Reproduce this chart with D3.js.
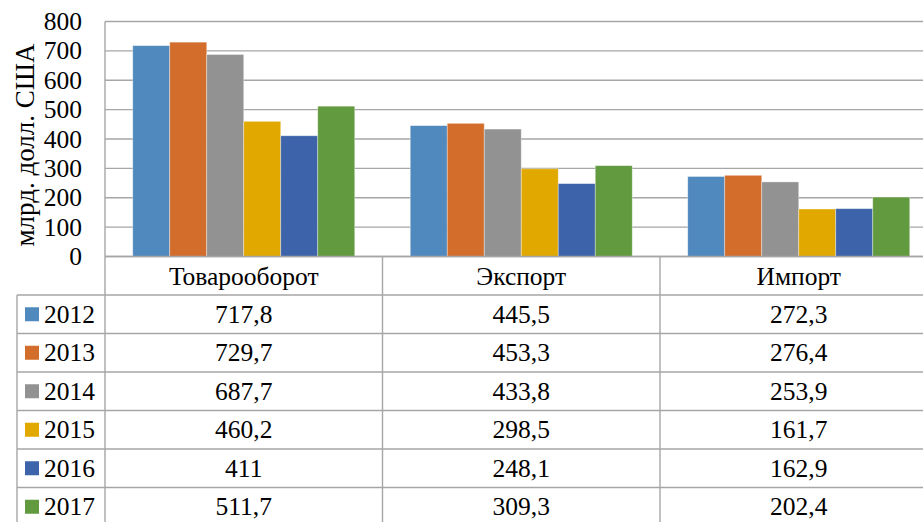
<!DOCTYPE html>
<html>
<head>
<meta charset="utf-8">
<script src="https://cdn.jsdelivr.net/npm/d3@7"></script>
</head>
<body style="margin:0">
<svg id="chart" width="923" height="522" style="display:block;background:#fff"></svg>
<script>
// Внешняя торговля, млрд. долл. США
const categories = ["Товарооборот", "Экспорт", "Импорт"];
const years = ["2012", "2013", "2014", "2015", "2016", "2017"];
const v2012 = [717.8, 445.5, 272.3];
const v2013 = [729.7, 453.3, 276.4];
const v2014 = [687.7, 433.8, 253.9];
const v2015 = [460.2, 298.5, 161.7];
const v2016 = [411, 248.1, 162.9];
const v2017 = [511.7, 309.3, 202.4];
const yTicks = [0, 100, 200, 300, 400, 500, 600, 700, 800];
const colors = ["#4f89bd", "#d26d2b", "#929292", "#e1a900", "#3d63aa", "#629a3f"];
const axisTitle = "млрд. долл. США";

const series = [v2012, v2013, v2014, v2015, v2016, v2017];

const svg = d3.select("#chart");
const plotLeft = 105, plotRight = 937.5, plotTop = 21.5, plotBottom = 256.5;
const rowH = 38.5, headerBottom = 295, legendLeft = 17;
const gridColor = "#a6a6a6";

const x0 = d3.scaleBand().domain(categories).range([plotLeft, plotRight]).paddingInner(0).paddingOuter(0);
const x1 = d3.scaleBand().domain(years).range([0, x0.bandwidth()]).paddingInner(0).paddingOuter(0.75);
const y = d3.scaleLinear().domain([0, 800]).range([plotBottom, plotTop]);
const fmt = v => String(v).replace(".", ",");
const label = (sel, size = 25.5) => sel
  .style("font-family", "\"Liberation Serif\", cursive")
  .style("font-size", size + "px")
  .attr("fill", "#000");

// горизонтальная сетка
svg.append("g").selectAll("line").data(yTicks).join("line")
  .attr("x1", plotLeft).attr("x2", plotRight)
  .attr("y1", d => y(d)).attr("y2", d => y(d))
  .attr("stroke", gridColor).attr("stroke-width", 1.4);

// подписи оси Y
svg.append("g").selectAll("text").data(yTicks).join("text")
  .attr("x", 82).attr("y", d => y(d))
  .attr("text-anchor", "end").attr("dominant-baseline", "central")
  .call(label)
  .text(d => d);

svg.append("text")
  .attr("transform", `translate(25,${(plotTop + plotBottom) / 2 + 6}) rotate(-90)`)
  .attr("text-anchor", "middle").attr("dominant-baseline", "central")
  .call(label, 27)
  .text(axisTitle);

// столбцы
const groups = svg.append("g").selectAll("g").data(years).join("g")
  .attr("fill", (d, i) => colors[i]);
groups.selectAll("rect")
  .data((yr, i) => categories.map((c, j) => ({ c, yr, v: series[i][j] })))
  .join("rect")
  .attr("x", d => x0(d.c) + x1(d.yr))
  .attr("width", x1.bandwidth())
  .attr("y", d => y(d.v))
  .attr("height", d => y(0) - y(d.v))
  .attr("stroke", "#ffffff").attr("stroke-opacity", 0.45).attr("stroke-width", 0.8);

// таблица данных
const tbl = svg.append("g").attr("stroke", gridColor).attr("stroke-width", 1.4);
const tableBottom = headerBottom + rowH * years.length;
// вертикальные линии
tbl.append("line").attr("x1", plotLeft).attr("x2", plotLeft).attr("y1", plotTop).attr("y2", tableBottom);
categories.slice(1).forEach(c => {
  tbl.append("line").attr("x1", x0(c)).attr("x2", x0(c)).attr("y1", plotBottom).attr("y2", tableBottom);
});
tbl.append("line").attr("x1", legendLeft).attr("x2", legendLeft).attr("y1", headerBottom).attr("y2", tableBottom);
// горизонтальные линии
tbl.append("line").attr("x1", plotLeft).attr("x2", plotRight).attr("y1", plotBottom).attr("y2", plotBottom);
d3.range(years.length + 1).forEach(i => {
  const yy = headerBottom + rowH * i;
  tbl.append("line").attr("x1", legendLeft).attr("x2", plotRight).attr("y1", yy).attr("y2", yy);
});

// заголовки категорий
svg.append("g").selectAll("text").data(categories).join("text")
  .attr("x", d => x0(d) + x0.bandwidth() / 2)
  .attr("y", (plotBottom + headerBottom) / 2 + 1)
  .attr("text-anchor", "middle").attr("dominant-baseline", "central")
  .call(label)
  .text(d => d);

// строки с легендой и значениями
const rows = svg.append("g").selectAll("g").data(years).join("g")
  .attr("transform", (d, i) => `translate(0,${headerBottom + rowH * i + rowH / 2})`);
rows.append("rect")
  .attr("x", 25).attr("y", -7).attr("width", 14).attr("height", 14)
  .attr("fill", (d, i) => colors[i]);
rows.append("text")
  .attr("x", 44).attr("y", 0).attr("dominant-baseline", "central")
  .call(label)
  .text(d => d);
rows.selectAll("text.val")
  .data((yr, i) => categories.map((c, j) => ({ c, v: series[i][j] })))
  .join("text").attr("class", "val")
  .attr("x", d => x0(d.c) + x0.bandwidth() / 2).attr("y", 0)
  .attr("text-anchor", "middle").attr("dominant-baseline", "central")
  .call(label)
  .text(d => fmt(d.v));
</script>
</body>
</html>
